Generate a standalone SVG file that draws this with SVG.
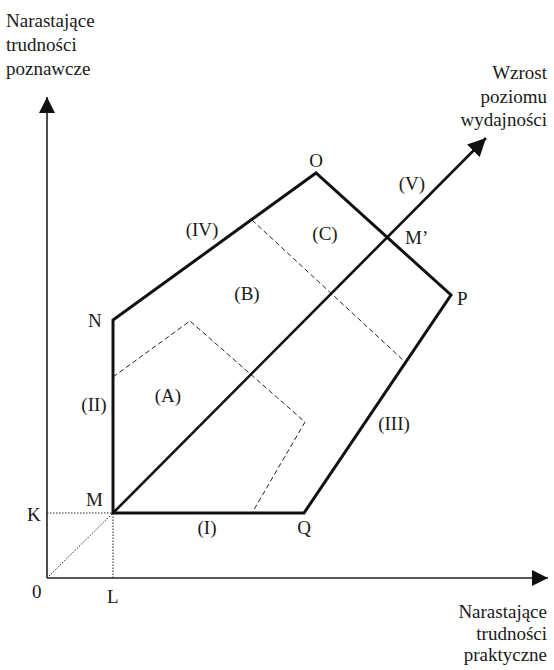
<svg xmlns="http://www.w3.org/2000/svg" width="554" height="670" viewBox="0 0 554 670">
<style>
text{font-size:19px;fill:#1a1a1a}
.r{text-anchor:end}
.m{text-anchor:middle}
.axis{stroke:#222;stroke-width:1.6;fill:none}
.thick{stroke:#111;stroke-width:3;fill:none;stroke-linejoin:miter}
.diag{stroke:#111;stroke-width:2.6;fill:none}
.dash{stroke:#222;stroke-width:1;fill:none;stroke-dasharray:5,3}
.dot{stroke:#222;stroke-width:1;fill:none;stroke-dasharray:1.5,1.5}
</style>
<defs>
<marker id="ah" viewBox="0 0 10 10" refX="10" refY="5" markerWidth="16" markerHeight="16" markerUnits="userSpaceOnUse" orient="auto">
<path d="M0,0 L10,5 L0,10 z" fill="#111"/>
</marker>
<marker id="ah2" viewBox="0 0 10 10" refX="10" refY="5" markerWidth="18" markerHeight="18" markerUnits="userSpaceOnUse" orient="auto">
<path d="M0,0 L10,5 L0,10 z" fill="#111"/>
</marker>
</defs>
<g id="connectors">
<line class="axis" x1="47" y1="578" x2="47" y2="97" marker-end="url(#ah)"/>
<line class="axis" x1="47" y1="578" x2="548" y2="578" marker-end="url(#ah)"/>
<line class="dot" x1="47" y1="513" x2="113" y2="513"/>
<line class="dot" x1="113" y1="578" x2="113" y2="513"/>
<line class="dot" x1="47" y1="578" x2="113" y2="513"/>
<polyline class="dash" points="113,377 190,321 305,422 252,513"/>
<line class="dash" x1="252" y1="220" x2="403" y2="360"/>
<line class="diag" x1="113" y1="513" x2="486" y2="138" marker-end="url(#ah2)"/>
</g>
<g id="polygon">
<polygon class="thick" points="113,513 113,320 316,173 451,295 304,513"/>
</g>
<g id="labels" font-family="'Liberation Serif', 'Times New Roman', Tinos, 'DejaVu Serif', serif">
<text x="6" y="27">Narastające</text>
<text x="6" y="51">trudności</text>
<text x="6" y="75">poznawcze</text>
<text class="r" x="547" y="79">Wzrost</text>
<text class="r" x="547" y="103">poziomu</text>
<text class="r" x="547" y="126">wydajności</text>
<text class="r" x="547" y="618">Narastające</text>
<text class="r" x="547" y="640">trudności</text>
<text class="r" x="547" y="661">praktyczne</text>
<text class="m" x="316" y="167">O</text>
<text x="457" y="305">P</text>
<text x="88" y="327">N</text>
<text class="m" x="304" y="534">Q</text>
<text x="86" y="506">M</text>
<text x="27" y="521">K</text>
<text x="32" y="598">0</text>
<text x="107" y="603">L</text>
<text x="405" y="244">M’</text>
<text class="m" x="207" y="534">(I)</text>
<text class="m" x="94" y="411">(II)</text>
<text class="m" x="394" y="430">(III)</text>
<text class="m" x="202" y="236">(IV)</text>
<text class="m" x="412" y="190">(V)</text>
<text class="m" x="168" y="402">(A)</text>
<text class="m" x="247" y="300">(B)</text>
<text class="m" x="325" y="240">(C)</text>
</g>
</svg>
